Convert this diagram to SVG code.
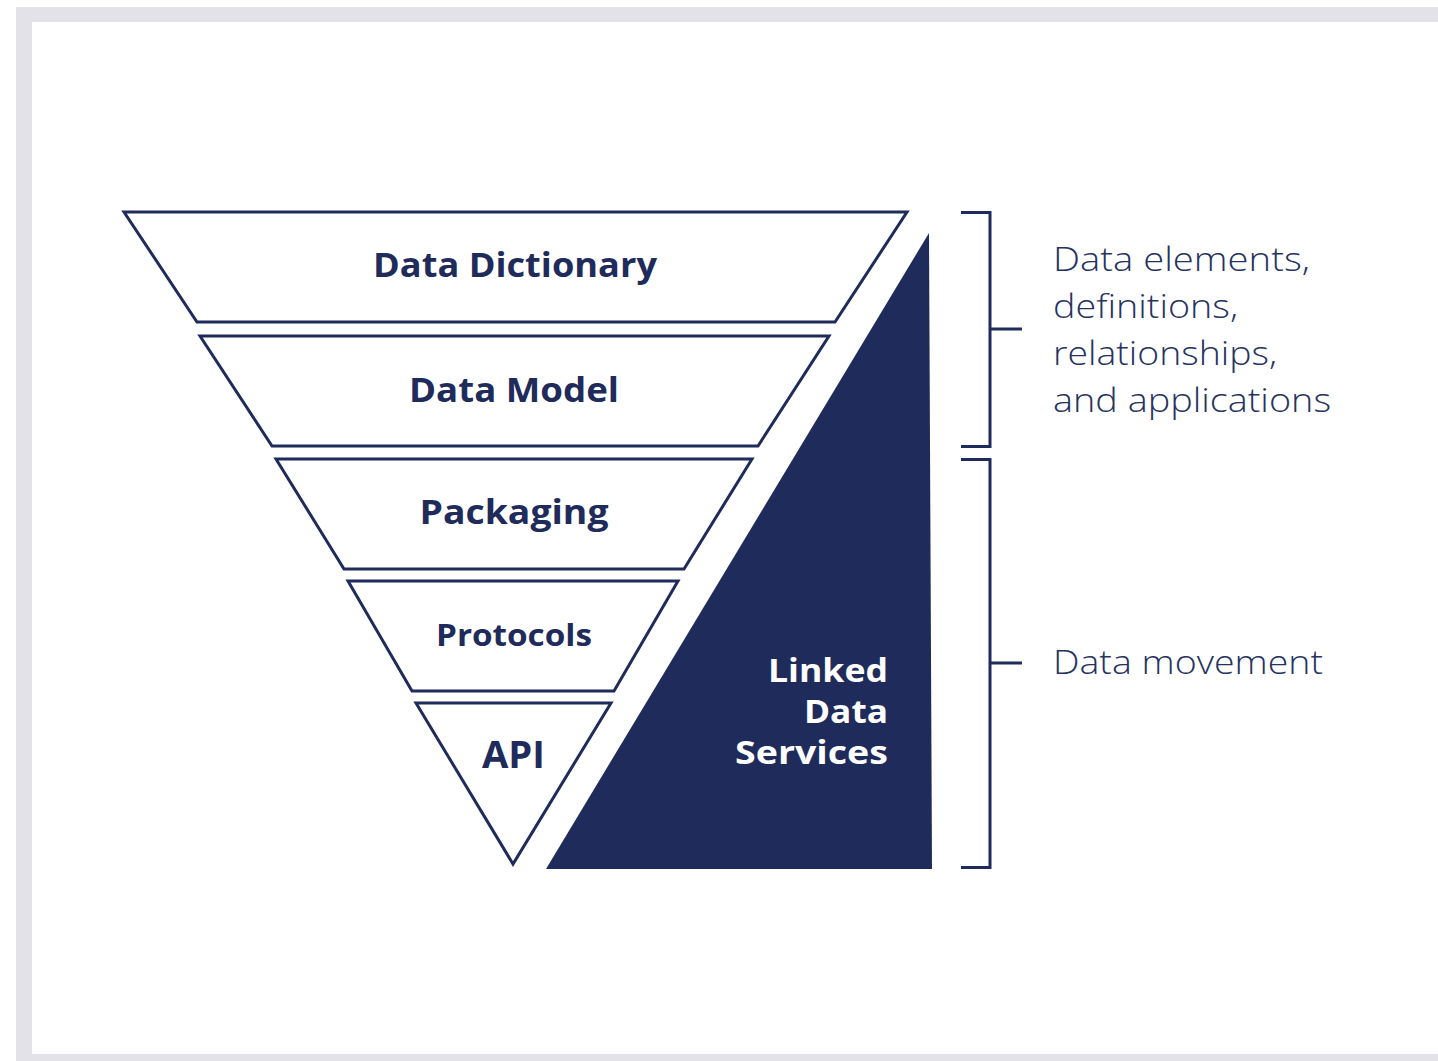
<svg xmlns="http://www.w3.org/2000/svg" width="1438" height="1061" viewBox="0 0 1438 1061">
  <style>
    .band { fill: #ffffff; stroke: #1f2b5a; stroke-width: 3; stroke-linejoin: miter; }
    .label { font-family: "Open Sans", "Liberation Sans", sans-serif; font-weight: 700; fill: #1f2b5a; text-anchor: middle; }
    .note { font-family: "Open Sans", "Liberation Sans", sans-serif; font-weight: 300; fill: #26335f; font-size: 33px; }
    .bracket { fill: none; stroke: #1f2b5a; stroke-width: 3; }
  </style>

  <!-- page frame -->
  <rect x="0" y="0" width="1438" height="1061" fill="#ffffff"/>
  <path d="M16 1061 V7 H1438 V22 H32 V1054 H1438 V1061 Z" fill="#e3e2e8"/>

  <!-- funnel layers -->
  <g id="data-dictionary">
    <polygon class="band" points="124,212 907,212 835,322 197,322"/>
    <text class="label" x="515" y="277" font-size="34" textLength="284" lengthAdjust="spacingAndGlyphs">Data Dictionary</text>
  </g>
  <g id="data-model">
    <polygon class="band" points="200,336 829,336 758,446 272,446"/>
    <text class="label" x="514" y="402" font-size="34" textLength="210" lengthAdjust="spacingAndGlyphs">Data Model</text>
  </g>
  <g id="packaging">
    <polygon class="band" points="276,459 752,459 684,569 344,569"/>
    <text class="label" x="514" y="524" font-size="34" textLength="189" lengthAdjust="spacingAndGlyphs">Packaging</text>
  </g>
  <g id="protocols">
    <polygon class="band" points="348,581 678,581 614,691 412,691"/>
    <text class="label" x="514" y="646" font-size="31" textLength="156" lengthAdjust="spacingAndGlyphs">Protocols</text>
  </g>
  <g id="api">
    <polygon class="band" points="416,703 611,703 513,864"/>
    <text class="label" x="513.5" y="768" font-size="37" textLength="63" lengthAdjust="spacingAndGlyphs">API</text>
  </g>

  <!-- linked data services wedge -->
  <g id="linked-data-services">
    <polygon points="929,233 932,869 546,869" fill="#1f2b5a"/>
    <g font-family="'Open Sans', 'Liberation Sans', sans-serif" font-weight="700" font-size="32" fill="#ffffff" text-anchor="end">
      <text x="888" y="682" textLength="120" lengthAdjust="spacingAndGlyphs">Linked</text>
      <text x="888" y="723" textLength="84" lengthAdjust="spacingAndGlyphs">Data</text>
      <text x="888" y="764" textLength="153" lengthAdjust="spacingAndGlyphs">Services</text>
    </g>
  </g>

  <!-- brackets -->
  <g id="connectors">
    <path class="bracket" d="M961 212.5 H990 V446.5 H961 M990 329 H1022"/>
    <path class="bracket" d="M961 459.5 H990 V867.5 H961 M990 663 H1022"/>
  </g>

  <!-- bracket notes -->
  <g id="note-definitions">
    <text class="note" x="1053" y="271" textLength="257" lengthAdjust="spacingAndGlyphs">Data elements,</text>
    <text class="note" x="1053" y="318" textLength="185" lengthAdjust="spacingAndGlyphs">definitions,</text>
    <text class="note" x="1053" y="365" textLength="224" lengthAdjust="spacingAndGlyphs">relationships,</text>
    <text class="note" x="1053" y="412" textLength="278" lengthAdjust="spacingAndGlyphs">and applications</text>
  </g>
  <g id="note-movement">
    <text class="note" x="1053" y="674" textLength="270" lengthAdjust="spacingAndGlyphs">Data movement</text>
  </g>
</svg>
